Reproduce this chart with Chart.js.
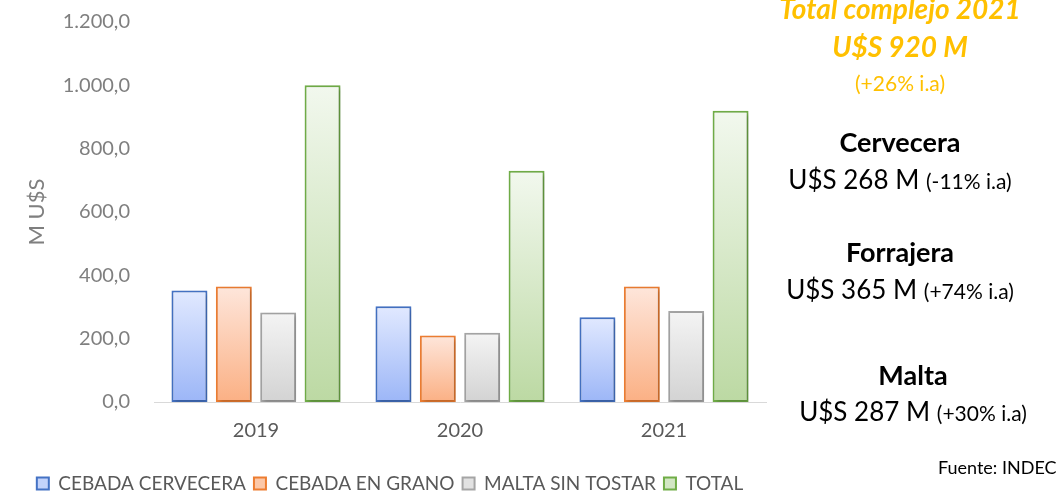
<!DOCTYPE html>
<html>
<head>
<meta charset="utf-8">
<script src="https://cdn.jsdelivr.net/npm/chart.js@4"></script>
<style>
  html, body { margin: 0; padding: 0; background: #fff; }
  #wrap { position: relative; width: 1056px; height: 494px; overflow: hidden; font-family: Lato, "Open Sans", sans-serif; }
  #wrap canvas { position: absolute; left: 0; top: -14px; }
  .side { position: absolute; left: 757px; width: 286px; text-align: center; white-space: nowrap; line-height: 30px; }
  .gold { color: #FFC000; }
  .bi { font-weight: bold; font-style: italic; font-size: 28px; }
  .big { font-size: 26px; color: #000; }
  .small { font-size: 21px; }
  .head { font-weight: bold; font-size: 27px; color: #000; }
</style>
</head>
<body>
<div id="wrap">
  <canvas id="myChart" width="1056" height="508"></canvas>

  <!-- right hand notes -->
  <div class="side gold bi" style="top:-7px;">Total complejo 2021</div>
  <div class="side gold bi" style="top:31px;">U$S 920 M</div>
  <div class="side gold small" style="top:68px;">(+26% i.a)</div>

  <div class="side head" style="top:127px;">Cervecera</div>
  <div class="side big" style="top:164px;">U$S 268 M <span class="small">(-11% i.a)</span></div>

  <div class="side head" style="top:237px;">Forrajera</div>
  <div class="side big" style="top:274px;">U$S 365 M <span class="small">(+74% i.a)</span></div>

  <div class="side head" style="top:360px; left:770px;">Malta</div>
  <div class="side big" style="top:396px; left:770px;">U$S 287 M <span class="small">(+30% i.a)</span></div>

  <div style="position:absolute; left:938px; top:455px; font-size:18px; line-height:24px; color:#000; white-space:nowrap;">Fuente: INDEC</div>
</div>

<script>
const years = ['2019', '2020', '2021'];
const cervecera = [352, 302, 268];
const enGrano = [365, 210, 365];
const maltaSinTostar = [283, 219, 287];
const total = [1000, 730, 920];
const yTicks = [0, 200, 400, 600, 800, 1000, 1200];

// border, light top, darker bottom, legend box
const palette = [
  ['#4472C4', '#e1e9ff', '#9cb6f7', '#c3d3fb'],
  ['#ED7D31', '#fee6db', '#fbb084', '#fcc8a8'],
  ['#A5A5A5', '#f4f4f4', '#d3d3d3', '#e2e2e2'],
  ['#70AD47', '#f2f8ee', '#bcd9a3', '#d3e7c4']
];

// format like 1.200,0
function fmt(v) {
  let s = Math.round(v).toString();
  s = s.replace(/\B(?=(\d{3})+(?!\d))/g, '.');
  return s + ',0';
}

function barFill(i) {
  return function (context) {
    const chart = context.chart;
    const yScale = chart.scales.y;
    if (!yScale || context.parsed === undefined) return palette[i][1];
    const top = yScale.getPixelForValue(context.parsed.y);
    const bottom = yScale.getPixelForValue(0);
    if (!isFinite(top) || !isFinite(bottom) || top === bottom) return palette[i][1];
    const g = chart.ctx.createLinearGradient(0, top, 0, bottom);
    g.addColorStop(0, palette[i][1]);
    g.addColorStop(1, palette[i][2]);
    return g;
  };
}

function makeSet(label, data, i) {
  return {
    label: label,
    data: data,
    backgroundColor: barFill(i),
    borderColor: palette[i][0],
    borderWidth: 2,
    borderSkipped: false,
    barPercentage: 0.81,
    categoryPercentage: 0.87
  };
}

// soft shadow behind the bars
const shadowPlugin = {
  id: 'barShadow',
  beforeDatasetsDraw(chart) {
    const c = chart.ctx;
    c.save();
    c.shadowColor = 'rgba(0,0,0,0.22)';
    c.shadowBlur = 4;
    c.shadowOffsetX = 2;
    c.shadowOffsetY = 2;
  },
  afterDatasetsDraw(chart) {
    chart.ctx.restore();
  }
};

const ctx = document.getElementById('myChart');

new Chart(ctx, {
  type: 'bar',
  data: {
    labels: years,
    datasets: [
      makeSet('CEBADA CERVECERA', cervecera, 0),
      makeSet('CEBADA EN GRANO', enGrano, 1),
      makeSet('MALTA SIN TOSTAR', maltaSinTostar, 2),
      makeSet('TOTAL', total, 3)
    ]
  },
  plugins: [shadowPlugin],
  options: {
    responsive: false,
    animation: false,
    devicePixelRatio: 1,
    layout: {
      padding: { top: -11, right: 290, left: 14, bottom: -9 }
    },
    plugins: {
      tooltip: { enabled: false },
      legend: {
        position: 'bottom',
        // empty title only pushes the row down a bit
        title: { display: true, text: ' ', padding: 0, font: { size: 5 } },
        labels: {
          font: { family: 'Lato', size: 19 },
          color: '#595959',
          boxWidth: 12,
          boxHeight: 12,
          padding: 8,
          generateLabels(chart) {
            return chart.data.datasets.map((ds, i) => ({
              text: ds.label,
              fillStyle: palette[i][3],
              strokeStyle: palette[i][0],
              lineWidth: 2,
              fontColor: '#595959',
              datasetIndex: i,
              hidden: false
            }));
          }
        }
      }
    },
    scales: {
      x: {
        grid: { display: false, drawTicks: false },
        border: { color: '#d9d9d9', width: 1 },
        ticks: {
          font: { family: 'Lato', size: 20, lineHeight: 1 },
          color: '#595959',
          padding: 19
        }
      },
      y: {
        min: 0,
        max: 1200,
        afterBuildTicks(axis) {
          axis.ticks = yTicks.map(v => ({ value: v }));
        },
        afterFit(axis) {
          axis.width = 140;
        },
        grid: { display: false, drawTicks: false },
        border: { display: false },
        ticks: {
          font: { family: 'Lato', size: 20 },
          color: '#7f7f7f',
          padding: 24,
          callback: (v) => fmt(v)
        },
        title: {
          display: true,
          text: 'M U$S',
          font: { family: 'Lato', size: 22 },
          color: '#7f7f7f',
          padding: { top: 10, bottom: 10 }
        }
      }
    }
  }
});
</script>
</body>
</html>
